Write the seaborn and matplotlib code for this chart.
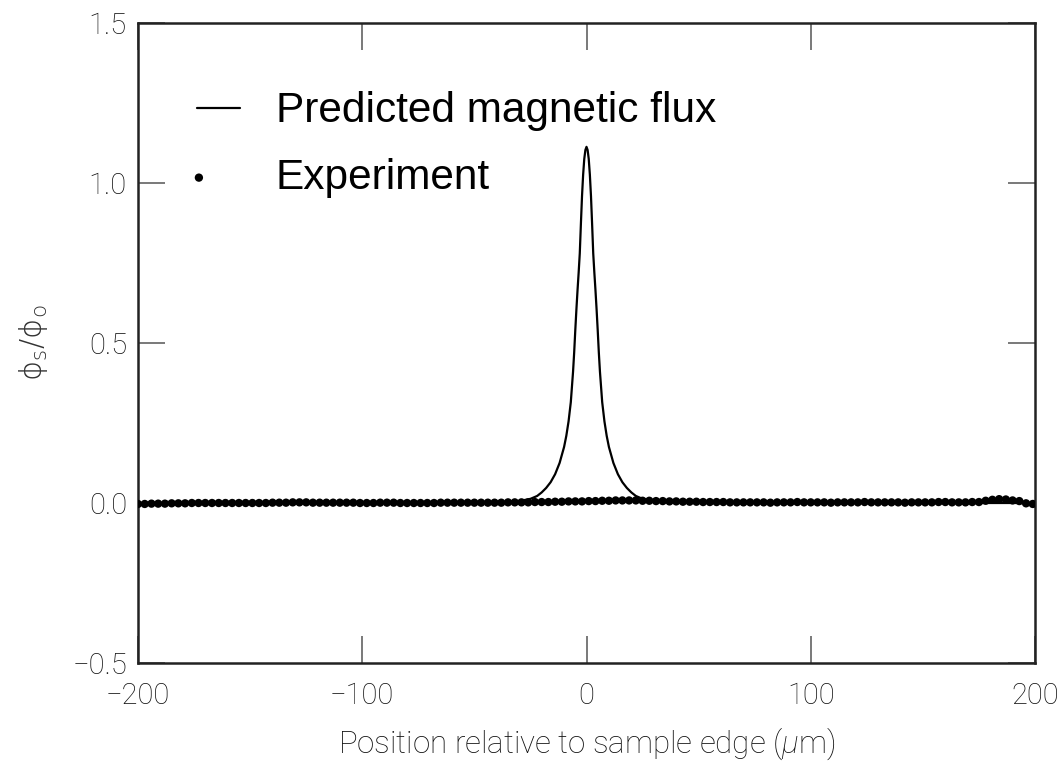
import matplotlib
matplotlib.use('Agg')
import matplotlib.pyplot as plt
from matplotlib.legend_handler import HandlerPathCollection
import seaborn as sns
import pandas as pd
import numpy as np

# predicted flux profile
pred_x = [-200, -100, -60, -40, -30, -25, -22, -20, -18, -16, -14, -12, -10, -9, -8,
          -7, -6, -5.5, -5, -4.5, -4, -3.5, -3, -2.5, -2, -1.5, -1, -0.5, 0,
          0.5, 1, 1.5, 2, 2.5, 3, 3.5, 4, 4.5, 5, 5.5, 6, 7, 8, 9, 10, 12, 14, 16,
          18, 20, 22, 25, 30, 40, 60, 100, 200]
pred_y = [0.0, 0.0, 0.0005, 0.002, 0.006, 0.013, 0.022, 0.033, 0.047, 0.065, 0.09,
          0.125, 0.175, 0.21, 0.255, 0.315, 0.41, 0.47, 0.54, 0.605, 0.665, 0.72,
          0.78, 0.872, 0.959, 1.026, 1.075, 1.103, 1.113,
          1.103, 1.075, 1.026, 0.959, 0.872, 0.78, 0.72, 0.665, 0.605, 0.54, 0.47,
          0.41, 0.315, 0.255, 0.21, 0.175, 0.125, 0.09, 0.065, 0.047, 0.033, 0.022,
          0.013, 0.006, 0.002, 0.0005, 0.0, 0.0]

# measured points, one every 3 um from -200
exp_x = np.arange(-200, 200, 3)
exp_y = [-0.003, -0.003, -0.002, -0.002, -0.002, -0.001, -0.001, -0.001, 0.0, 0.0,
         0.0, 0.0, 0.0, 0.0, 0.0, 0.0, 0.0, 0.0, 0.0, 0.0, 0.001,
         0.001, 0.001, 0.002, 0.002, 0.002, 0.001, 0.001, 0.001, 0.001, 0.001,
         0.001, 0.001, 0.0, 0.0, 0.0, 0.001, 0.001, 0.001, 0.0, 0.0,
         0.0, 0.0, 0.0, 0.0, 0.001, 0.001, 0.001, 0.001, 0.001, 0.001,
         0.001, 0.001, 0.001, 0.001, 0.002,
         0.002, 0.002, 0.002, 0.003, 0.003, 0.003, 0.004, 0.004, 0.005, 0.005,
         0.005, 0.006, 0.006, 0.007, 0.007, 0.008, 0.008, 0.008, 0.008, 0.007, 0.007,
         0.006, 0.006, 0.005, 0.005, 0.004, 0.004, 0.004, 0.003, 0.003, 0.003,
         0.003, 0.002, 0.002, 0.002,
         0.002, 0.002, 0.002, 0.001, 0.002, 0.002, 0.002, 0.003, 0.002, 0.002,
         0.002, 0.002, 0.001, 0.002, 0.002, 0.002, 0.002, 0.003, 0.002, 0.002,
         0.002, 0.002, 0.002, 0.001, 0.002, 0.002, 0.002, 0.002, 0.003, 0.003,
         0.002, 0.002, 0.002, 0.003, 0.003,
         0.007, 0.010, 0.012, 0.011, 0.008, 0.006, -0.001, -0.003]

x_ticks = [-200, -100, 0, 100, 200]
y_ticks = [-0.5, 0.0, 0.5, 1.0, 1.5]


class LeftDot(HandlerPathCollection):
    # put the legend dot at the left end of the handle, like the original
    def get_xdata(self, legend, xdescent, ydescent, width, height, fontsize):
        xdata, _ = super().get_xdata(legend, xdescent, ydescent, width, height, fontsize)
        return xdata, [-xdescent + 0.04 * width]


sns.set_style('white')
plt.rcParams['font.family'] = ['Roboto', 'DejaVu Sans']
plt.rcParams['font.weight'] = 'light'
plt.rcParams['mathtext.fontset'] = 'custom'
plt.rcParams['mathtext.rm'] = 'DejaVu Sans'
plt.rcParams['mathtext.it'] = 'Roboto:italic:light'

pred = pd.DataFrame({'x': pred_x, 'y': pred_y})
exp = pd.DataFrame({'x': exp_x, 'y': exp_y})

fig = plt.figure(figsize=(10.62, 7.62), dpi=100)
ax = fig.add_axes([138 / 1062, 99 / 762, 897 / 1062, 640 / 762])

sns.lineplot(data=pred, x='x', y='y', ax=ax, color='black', linewidth=1.6,
             label='Predicted magnetic flux', zorder=2)
sns.scatterplot(data=exp, x='x', y='y', ax=ax, color='black', s=36,
                edgecolor='none', label='Experiment', zorder=3)

ax.set_xlim(-200, 200)
ax.set_ylim(-0.5, 1.5)
ax.set_xticks(x_ticks)
ax.set_xticklabels(['\u2212200', '\u2212100', '0', '100', '200'])
ax.set_yticks(y_ticks)
ax.set_yticklabels(['\u22120.5', '0.0', '0.5', '1.0', '1.5'])

ax.tick_params(direction='in', length=19.5, width=1.1, color='#555555',
               bottom=True, left=True, top=True, right=True,
               labelsize=21, labelcolor='#111111')
ax.tick_params(axis='x', pad=14)
ax.tick_params(axis='y', pad=8)
for s in ax.spines.values():
    s.set_linewidth(1.8)
    s.set_color('#222222')

ax.set_xlabel(r'Position relative to sample edge ($\mu$m)', fontsize=22.5,
              color='#111111', fontweight='light')
ax.set_ylabel(r'$\mathrm{\phi_s/\phi_o}$', fontsize=22, color='#333333')
ax.xaxis.set_label_coords(0.5, -0.098)
ax.yaxis.set_label_coords(-0.098, 0.5)

handles, labels = ax.get_legend_handles_labels()
leg = ax.legend(handles, labels, loc='upper left', bbox_to_anchor=(0.066, 0.893),
                frameon=False, borderpad=0, borderaxespad=0,
                handlelength=1.0, handletextpad=0.86, labelspacing=0.62,
                prop={'family': 'Liberation Sans', 'size': 30.5, 'weight': 'normal'},
                handler_map={type(handles[1]): LeftDot(numpoints=1)})
for t in leg.get_texts():
    t.set_color('black')

plt.savefig('out.png', dpi=100)
plt.close('all')
